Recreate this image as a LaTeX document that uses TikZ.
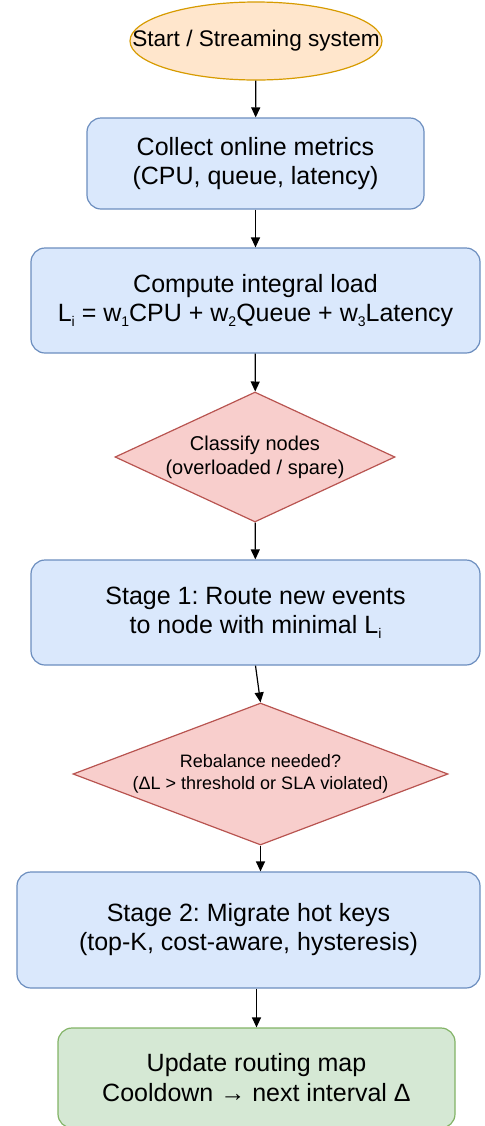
\documentclass[tikz,border=0pt]{standalone}
\usepackage{fontspec}
\setmainfont{Liberation Sans}
\usetikzlibrary{shapes.geometric,arrows.meta}

\definecolor{startfill}{HTML}{FFE6CC}
\definecolor{startline}{HTML}{D79B00}
\definecolor{procfill}{HTML}{DAE8FC}
\definecolor{procline}{HTML}{6C8EBF}
\definecolor{decfill}{HTML}{F8CECC}
\definecolor{decline}{HTML}{B85450}
\definecolor{endfill}{HTML}{D5E8D4}
\definecolor{endline}{HTML}{82B366}

% small lowered index, as in L_i and w_1
\newcommand\lowidx[1]{\raisebox{-0.4ex}{\fontsize{7}{7}\selectfont #1}}

\tikzset{
  startnode/.style={ellipse, draw=startline, fill=startfill, line width=0.6pt,
    inner sep=0pt, minimum width=126pt, minimum height=39pt,
    font=\fontsize{11.3}{13}\selectfont},
  procbox/.style={rectangle, rounded corners=7pt, draw=procline, fill=procfill,
    line width=0.6pt, inner sep=0pt, align=center,
    font=\fontsize{12.5}{14.5}\selectfont},
  decision/.style={diamond, draw=decline, fill=decfill, line width=0.6pt,
    inner sep=0pt, align=center},
  endbox/.style={rectangle, rounded corners=7pt, draw=endline, fill=endfill,
    line width=0.6pt, inner sep=0pt, align=center,
    font=\fontsize{12.5}{15}\selectfont},
  flow/.style={draw=black, line width=0.6pt, -{Triangle[length=5pt,width=4.5pt]}}
}

\begin{document}
\frenchspacing
\begin{tikzpicture}[x=0.5pt,y=-0.5pt]
\useasboundingbox (0,0) rectangle (484,1126);

\node[startnode] (start) at (256,41) {\makebox[0pt][c]{Start / Streaming system}};

\node[procbox, minimum width=168.5pt, minimum height=45.5pt] (collect) at (255.5,163.5)
  {Collect online metrics\\(CPU, queue, latency)};

\node[procbox, minimum width=224.5pt, minimum height=52.5pt] (load) at (255.5,300.5)
  {Compute integral load\\L\lowidx{i} = w\lowidx{1}CPU + w\lowidx{2}Queue + w\lowidx{3}Latency};

\node[decision, aspect=2.15, minimum width=140pt, minimum height=65pt,
  font=\fontsize{10}{12}\selectfont] (classify) at (255,457)
  {Classify nodes\\(overloaded / spare)};

\node[procbox, minimum width=224.5pt, minimum height=52.5pt] (route) at (255.5,612.5)
  {Stage 1: Route new events\\to node with minimal L\lowidx{i}};

\node[decision, aspect=2.64, minimum width=187.5pt, minimum height=71pt,
  font=\fontsize{9}{11}\selectfont] (rebal) at (260.5,774)
  {Rebalance needed?\\(ΔL > threshold or SLA violated)};

\node[procbox, minimum width=231.5pt, minimum height=58pt] (migrate) at (248.5,930)
  {Stage 2: Migrate hot keys\\(top-K, cost-aware, hysteresis)};

\node[endbox, minimum width=198.5pt, minimum height=50pt] (update) at (256.5,1078)
  {Update routing map\\Cooldown → next interval Δ};

\draw[flow] (start) -- (collect);
\draw[flow] (collect) -- (load);
\draw[flow] (load) -- (classify);
\draw[flow] (classify) -- (route);
\draw[flow] (route.south) -- (rebal.north);
\draw[flow] (rebal.south) -- (rebal.south |- migrate.north);
\draw[flow] (migrate.south -| update.north) -- (update.north);
\end{tikzpicture}
\end{document}
